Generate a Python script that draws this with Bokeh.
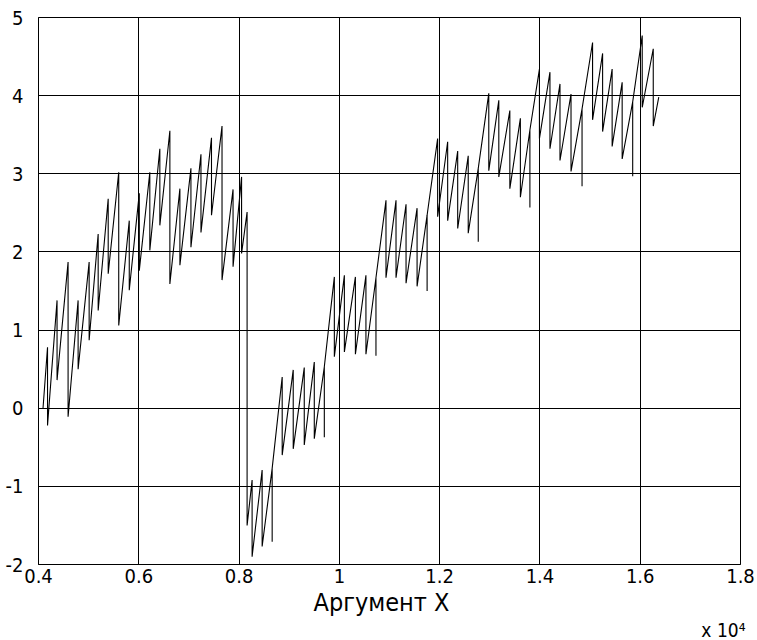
from bokeh.plotting import figure
from bokeh.models import Range1d, FixedTicker, Title
from bokeh.embed import file_html
from bokeh.resources import INLINE

# ---- data (x in data units, y values) ----
start_x, start_y = 4090, 0.0
tooth_x = [4180, 4370, 4590, 4790, 5010, 5190, 5390, 5600, 5810, 6010,
           6220, 6420, 6620, 6820, 7040, 7240, 7450, 7660, 7880, 8050,
           8160, 8260, 8460, 8660, 8860, 9080, 9300, 9500, 9700, 9900,
           10100, 10320, 10530, 10730, 10930, 11130, 11330, 11550, 11750, 11960,
           12160, 12360, 12570, 12770, 12980, 13180, 13400, 13610, 13800, 13990,
           14200, 14400, 14620, 14840, 15050, 15250, 15440, 15640, 15850, 16040,
           16260]
tooth_top = [0.78, 1.38, 1.87, 1.38, 1.87, 2.23, 2.68, 3.02, 2.40, 2.75,
             3.02, 3.32, 3.55, 2.81, 3.07, 3.25, 3.46, 3.61, 2.80, 2.96,
             2.51, -0.92, -0.79, -0.77, 0.40, 0.49, 0.52, 0.59, 0.53, 1.68,
             1.70, 1.68, 1.70, 1.67, 2.66, 2.66, 2.61, 2.56, 2.47, 3.45,
             3.41, 3.29, 3.23, 3.07, 4.03, 3.94, 3.81, 3.71, 3.56, 4.34,
             4.30, 4.15, 4.02, 3.83, 4.68, 4.54, 4.34, 4.17, 3.92, 4.77,
             4.60]
tooth_bottom = [-0.22, 0.36, -0.11, 0.50, 0.87, 1.25, 1.72, 1.06, 1.51, 1.76,
                2.02, 2.34, 1.59, 1.83, 2.06, 2.25, 2.47, 1.64, 1.81, 1.98,
                -1.50, -1.90, -1.77, -1.71, -0.60, -0.52, -0.47, -0.39, -0.37, 0.66,
                0.72, 0.69, 0.69, 0.67, 1.67, 1.67, 1.60, 1.56, 1.50, 2.45,
                2.40, 2.30, 2.24, 2.13, 3.04, 2.96, 2.81, 2.70, 2.57, 3.45,
                3.32, 3.17, 3.03, 2.84, 3.69, 3.54, 3.35, 3.19, 2.97, 3.85,
                3.61]
# teeth after which the curve climbs straight back to the tooth top
climb_back = [8660, 9700, 10730, 11750, 12770, 13800, 14840, 15850]
end_x, end_y = 16370, 3.98

x_ticks = [4000, 6000, 8000, 10000, 12000, 14000, 16000, 18000]
x_tick_labels = ["0.4", "0.6", "0.8", "1", "1.2", "1.4", "1.6", "1.8"]
y_ticks = [-2, -1, 0, 1, 2, 3, 4, 5]
y_tick_labels = ["-2", "-1", "0", "1", "2", "3", "4", "5"]
x_label = "Аргумент Х"
x_multiplier = "x 10⁴"

# ---- build path ----
xs, ys = [start_x], [start_y]
for tx, tt, tb in zip(tooth_x, tooth_top, tooth_bottom):
    xs += [tx, tx]
    ys += [tt, tb]
    if tx in climb_back:
        xs.append(tx)
        ys.append(tt)
xs.append(end_x)
ys.append(end_y)

FONT = "Liberation Sans Narrow, DejaVu Sans Condensed, Roboto Condensed, Liberation Sans, sans-serif"

p = figure(width=757, height=640, output_backend="svg", toolbar_location=None,
           x_range=Range1d(4000, 18000), y_range=Range1d(-2, 5),
           min_border_left=38, min_border_right=17, min_border_top=17,
           min_border_bottom=76)
p.background_fill_color = "white"
p.border_fill_color = "white"
p.outline_line_color = "black"
p.outline_line_width = 1
p.outline_line_alpha = 1

p.line(xs, ys, line_color="black", line_width=1.1)

for ax in (p.xaxis[0], p.yaxis[0]):
    ax.major_tick_out = 0
    ax.major_tick_in = 0
    ax.minor_tick_out = 0
    ax.minor_tick_in = 0
    ax.axis_line_color = "black"
    ax.major_label_text_font = FONT
    ax.major_label_text_font_size = "20px"
    ax.major_label_text_color = "black"

p.xaxis[0].ticker = FixedTicker(ticks=x_ticks)
p.xaxis[0].major_label_overrides = {t: l for t, l in zip(x_ticks, x_tick_labels)}
p.xaxis[0].major_label_standoff = 4

p.yaxis[0].ticker = FixedTicker(ticks=y_ticks)
p.yaxis[0].major_label_overrides = {t: l for t, l in zip(y_ticks, y_tick_labels)}
p.yaxis[0].major_label_standoff = 15

p.xgrid[0].ticker = FixedTicker(ticks=x_ticks)
p.ygrid[0].ticker = FixedTicker(ticks=y_ticks)
for g in (p.xgrid[0], p.ygrid[0]):
    g.grid_line_color = "black"
    g.grid_line_alpha = 1
    g.grid_line_width = 1

# x label and the "x 10^4" multiplier, stacked under the x axis
p.add_layout(Title(text=x_label, align="left", offset=275, standoff=0,
                   text_font=FONT, text_font_size="25px", text_font_style="normal",
                   text_color="black"), "below")
p.add_layout(Title(text=x_multiplier, align="right", offset=-5, standoff=0,
                   text_font=FONT, text_font_size="19px", text_font_style="normal",
                   text_color="black"), "below")

open("out.html", "w").write(file_html(p, INLINE))
